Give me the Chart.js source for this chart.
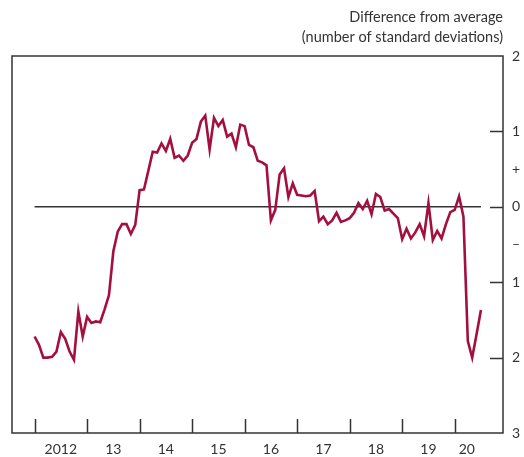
<!DOCTYPE html>
<html>
<head>
<meta charset="utf-8">
<script src="https://cdn.jsdelivr.net/npm/chart.js@4"></script>
<style>
  body { margin: 0; background: #fff; }
  canvas { display: block; }
</style>
</head>
<body>
<canvas id="chart" width="524" height="457"></canvas>
<script>
// monthly values, Jan 2012 onwards (standard deviations from average)
const startYear = 2012;
const values = [
  -1.72, -1.83, -2.00, -2.00, -1.99, -1.92, -1.66, -1.75, -1.92, -2.03, -1.39, -1.72, // 2012
  -1.46, -1.54, -1.52, -1.53, -1.36, -1.17, -0.59, -0.33, -0.23, -0.23, -0.36, -0.24, // 2013
   0.22,  0.23,  0.48,  0.73,  0.72,  0.84,  0.74,  0.90,  0.65,  0.68,  0.61,  0.68, // 2014
   0.85,  0.90,  1.13,  1.21,  0.76,  1.18,  1.07,  1.15,  0.93,  0.97,  0.79,  1.09, // 2015
   1.07,  0.82,  0.79,  0.61,  0.59,  0.55, -0.18, -0.04,  0.43,  0.51,  0.13,  0.31, // 2016
   0.16,  0.15,  0.14,  0.15,  0.21, -0.19, -0.13, -0.23, -0.18, -0.08, -0.20, -0.18, // 2017
  -0.15, -0.08,  0.05, -0.03,  0.08, -0.10,  0.17,  0.13, -0.05, -0.03, -0.09, -0.15, // 2018
  -0.43, -0.29, -0.42, -0.34, -0.23, -0.39,  0.05, -0.44, -0.32, -0.42, -0.23, -0.07, // 2019
  -0.04,  0.14, -0.13, -1.78, -2.00, -1.69, -1.37                                     // 2020
];

const yearTicks = [2012, 2013, 2014, 2015, 2016, 2017, 2018, 2019, 2020];
const xLabelPos = [2012.5, 2013.5, 2014.5, 2015.5, 2016.5, 2017.5, 2018.5, 2019.5, 2020.23];
const xLabels = ['2012', '13', '14', '15', '16', '17', '18', '19', '20'];

const yTickValues = [2, 1, 0.5, 0, -0.5, -1, -2, -3];
const yTickLabels = ['2', '1', '+', '0', '\u2013', '1', '2', '3'];
const yTickMarks = [1, 0, -1, -2];

const titleLines = ['Difference from average', '(number of standard deviations)'];

const lineData = values.map((v, i) => ({ x: startYear + i / 12, y: v }));
const zeroLine = [{ x: startYear, y: 0 }, { x: startYear + (values.length - 1) / 12, y: 0 }];

const ink = '#333333';
const font = 'Lato, "Open Sans", sans-serif';

const framePlugin = {
  id: 'frame',
  afterDraw(chart) {
    const { ctx, chartArea: a, scales } = chart;
    ctx.save();
    ctx.strokeStyle = ink;
    ctx.lineWidth = 1.5;
    ctx.strokeRect(a.left, a.top, a.right - a.left, a.bottom - a.top);

    ctx.beginPath();
    yearTicks.forEach(yr => {
      const px = Math.round(scales.x.getPixelForValue(yr)) + 0.5;
      ctx.moveTo(px, a.bottom);
      ctx.lineTo(px, a.bottom - 14);
    });
    yTickMarks.forEach(v => {
      const py = Math.round(scales.y.getPixelForValue(v)) + 0.5;
      ctx.moveTo(a.right, py);
      ctx.lineTo(a.right - 13, py);
    });
    ctx.stroke();

    ctx.fillStyle = ink;
    ctx.font = '14.5px ' + font;
    ctx.textAlign = 'right';
    ctx.textBaseline = 'middle';
    ctx.fillText(titleLines[0], a.right, 17);
    ctx.fillText(titleLines[1], a.right, 37);
    ctx.restore();
  }
};

new Chart(document.getElementById('chart'), {
  type: 'line',
  data: {
    datasets: [
      {
        label: 'Index',
        data: lineData,
        borderColor: '#a3103f',
        borderWidth: 2.6,
        pointRadius: 0,
        tension: 0,
        order: 1
      },
      {
        label: 'zero',
        data: zeroLine,
        borderColor: ink,
        borderWidth: 1.5,
        pointRadius: 0,
        order: 2
      }
    ]
  },
  options: {
    responsive: false,
    animation: false,
    layout: { padding: { top: 56, left: 12, right: 0, bottom: 0 } },
    plugins: {
      legend: { display: false },
      tooltip: { enabled: false }
    },
    scales: {
      x: {
        type: 'linear',
        position: 'bottom',
        min: 2011.57,
        max: 2020.92,
        grid: { display: false, drawTicks: false },
        border: { display: false },
        afterBuildTicks: scale => { scale.ticks = xLabelPos.map(v => ({ value: v })); },
        afterFit: scale => { scale.height = 24; },
        ticks: {
          autoSkip: false,
          maxRotation: 0,
          padding: 8,
          color: ink,
          font: { family: font, size: 14 },
          callback: (v, i) => xLabels[i]
        }
      },
      y: {
        type: 'linear',
        position: 'right',
        min: -3,
        max: 2,
        grid: { display: false, drawTicks: false },
        border: { display: false },
        afterBuildTicks: scale => { scale.ticks = yTickValues.map(v => ({ value: v })); },
        afterFit: scale => { scale.width = 21; },
        ticks: {
          autoSkip: false,
          padding: 9,
          color: ink,
          font: { family: font, size: 14 },
          callback: (v, i) => yTickLabels[i]
        }
      }
    }
  },
  plugins: [framePlugin]
});
</script>
</body>
</html>
